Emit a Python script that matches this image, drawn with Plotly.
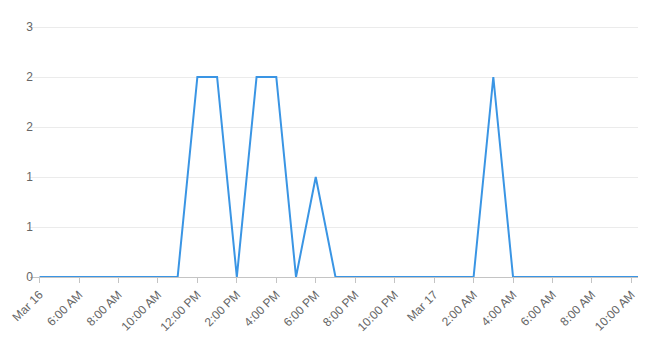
import plotly.graph_objects as go

times = [
    "2024-03-16 04:00", "2024-03-16 05:00", "2024-03-16 06:00", "2024-03-16 07:00",
    "2024-03-16 08:00", "2024-03-16 09:00", "2024-03-16 10:00", "2024-03-16 11:00",
    "2024-03-16 12:00", "2024-03-16 13:00", "2024-03-16 14:00", "2024-03-16 15:00",
    "2024-03-16 16:00", "2024-03-16 17:00", "2024-03-16 18:00", "2024-03-16 19:00",
    "2024-03-16 20:00", "2024-03-16 21:00", "2024-03-16 22:00", "2024-03-16 23:00",
    "2024-03-17 00:00", "2024-03-17 01:00", "2024-03-17 02:00", "2024-03-17 03:00",
    "2024-03-17 04:00", "2024-03-17 05:00", "2024-03-17 06:00", "2024-03-17 07:00",
    "2024-03-17 08:00", "2024-03-17 09:00", "2024-03-17 10:00", "2024-03-17 10:20",
]
values = [0, 0, 0, 0, 0, 0, 0, 0,
          2, 2, 0, 2, 2, 0, 1, 0,
          0, 0, 0, 0, 0, 0, 0, 2,
          0, 0, 0, 0, 0, 0, 0, 0]

x_tickvals = [
    "2024-03-16 04:00", "2024-03-16 06:00", "2024-03-16 08:00", "2024-03-16 10:00",
    "2024-03-16 12:00", "2024-03-16 14:00", "2024-03-16 16:00", "2024-03-16 18:00",
    "2024-03-16 20:00", "2024-03-16 22:00", "2024-03-17 00:00", "2024-03-17 02:00",
    "2024-03-17 04:00", "2024-03-17 06:00", "2024-03-17 08:00", "2024-03-17 10:00",
]
x_ticktext = ["Mar 16", "6:00 AM", "8:00 AM", "10:00 AM", "12:00 PM", "2:00 PM",
              "4:00 PM", "6:00 PM", "8:00 PM", "10:00 PM", "Mar 17", "2:00 AM",
              "4:00 AM", "6:00 AM", "8:00 AM", "10:00 AM"]
y_tickvals = [0, 0.5, 1, 1.5, 2, 2.5]
y_ticktext = ["0", "1", "1", "2", "2", "3"]

fig = go.Figure(go.Scatter(
    x=times, y=values, mode="lines",
    line=dict(color="#3a95e4", width=2),
    hoverinfo="x+y",
))

fig.update_layout(
    width=648, height=346,
    margin=dict(l=30, r=10, t=22, b=69),
    paper_bgcolor="white", plot_bgcolor="white",
    showlegend=False,
    font=dict(family="Liberation Sans, Arial, sans-serif", size=12, color="#666666"),
)
fig.update_xaxes(
    type="date",
    range=["2024-03-16 03:31", "2024-03-17 10:20"],
    tickvals=x_tickvals, ticktext=x_ticktext, tickangle=-45,
    showgrid=False, zeroline=False,
    showline=True, linecolor="#c4c4c4", linewidth=1,
    ticks="outside", ticklen=5, tickcolor="#c4c4c4",
    tickfont=dict(size=12, color="#666666"),
)
fig.update_yaxes(
    range=[0, 2.55],
    tickvals=y_tickvals, ticktext=y_ticktext,
    showgrid=True, gridcolor="#ebebeb", gridwidth=1,
    zeroline=False, showline=False, ticks="",
    ticklabelstandoff=-4,
    tickfont=dict(size=12, color="#666666"),
)

fig.write_html("out.html")
